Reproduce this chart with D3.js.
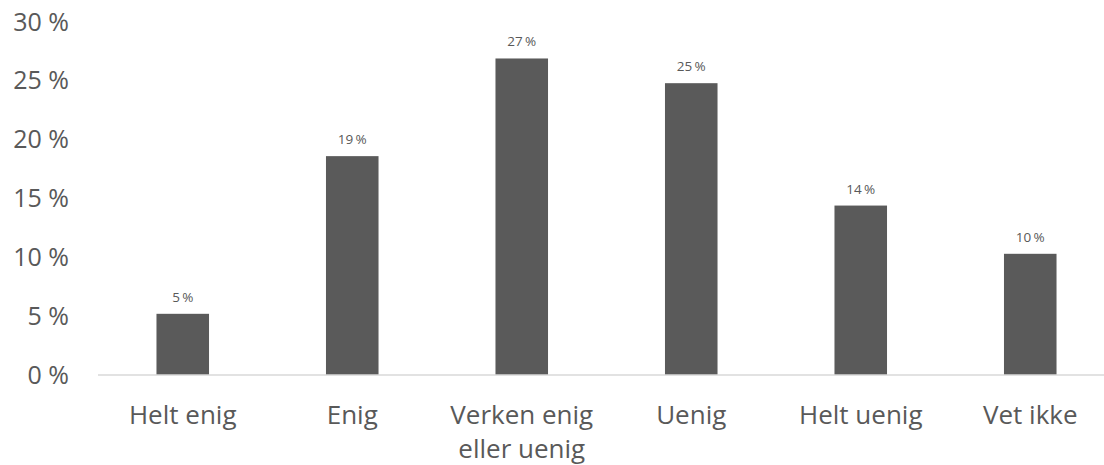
<!DOCTYPE html>
<html>
<head>
<meta charset="utf-8">
<script src="https://cdn.jsdelivr.net/npm/d3@7"></script>
<style>
  html, body { margin: 0; padding: 0; background: #fff; }
  svg { display: block; font-family: "Open Sans", sans-serif; }
</style>
</head>
<body>
<svg id="chart" width="1104" height="465"></svg>
<script>
// Answer categories (line breaks marked with \n)
const categories = ["Helt enig", "Enig", "Verken enig\neller uenig", "Uenig", "Helt uenig", "Vet ikke"];
// Share of respondents, percent
const shares = [5.2, 18.6, 26.9, 24.8, 14.4, 10.3];
// Y axis ticks, percent
const yTicks = [0, 5, 10, 15, 20, 25, 30];

const svg = d3.select("#chart");
const textColor = "#595959";

const x = d3.scaleBand()
  .domain(categories)
  .range([98, 1115])
  .paddingInner(0.69)
  .paddingOuter(0.345);

const y = d3.scaleLinear()
  .domain([0, 30])
  .range([375, 22]);

// Y axis labels (no line, no gridlines)
const yAxis = d3.axisLeft(y)
  .tickValues(yTicks)
  .tickSize(0)
  .tickPadding(0)
  .tickFormat(d => d + " %");

svg.append("g")
  .attr("transform", "translate(69,0)")
  .call(yAxis)
  .call(g => g.select(".domain").remove())
  .call(g => g.selectAll("text")
    .attr("fill", textColor)
    .attr("font-size", 25)
    .attr("font-family", "Open Sans, sans-serif"));

// Bars
svg.append("g")
  .selectAll("rect")
  .data(categories)
  .join("rect")
  .attr("x", d => x(d))
  .attr("width", x.bandwidth())
  .attr("y", (d, i) => y(shares[i]))
  .attr("height", (d, i) => y(0) - y(shares[i]))
  .attr("fill", "#5a5a5a");

// Value labels
svg.append("g")
  .selectAll("text")
  .data(categories)
  .join("text")
  .attr("x", d => x(d) + x.bandwidth() / 2)
  .attr("y", (d, i) => y(shares[i]) - 12)
  .attr("text-anchor", "middle")
  .attr("fill", textColor)
  .attr("font-size", 13.5)
  .text((d, i) => Math.round(shares[i]) + "\u2009%");

// X axis: baseline and category labels
const xAxis = d3.axisBottom(x).tickSize(0).tickPadding(0);
const gx = svg.append("g")
  .attr("transform", `translate(0,${y(0)})`)
  .call(xAxis);
gx.select(".domain").attr("stroke", "#d9d9d9").attr("stroke-width", 1.5)
  .attr("d", "M98,0H1104");
gx.selectAll(".tick text").each(function(d) {
  const t = d3.select(this).text(null)
    .attr("fill", textColor)
    .attr("font-size", 26)
    .attr("font-family", "Open Sans, sans-serif")
    .attr("dy", null)
    .attr("y", 49);
  d.split("\n").forEach((line, i) => {
    t.append("tspan").attr("x", 0).attr("dy", i === 0 ? 0 : 34).text(line);
  });
});
</script>
</body>
</html>
